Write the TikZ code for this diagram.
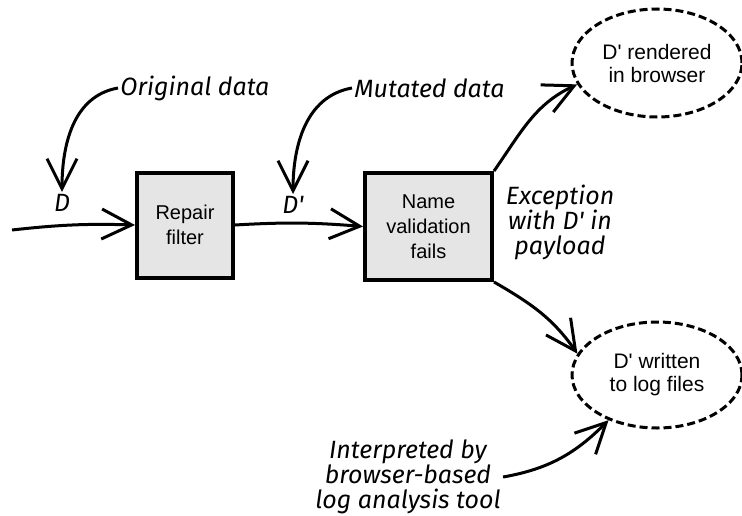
\documentclass[tikz,border=0pt]{standalone}
\usepackage{fontspec}
\setmainfont{Liberation Sans}
\newfontfamily\handfont{Fira Sans}
\usetikzlibrary{arrows.meta,shapes.geometric}

\tikzset{
  procbox/.style={draw, line width=2pt, fill=black!10, align=center,
    font=\fontsize{10}{12.5}\selectfont},
  outcome/.style={draw, ellipse, dashed, dash pattern=on 4pt off 2pt,
    line width=1.5pt, align=center, inner sep=0pt,
    font=\fontsize{10.5}{11.5}\selectfont},
  note/.style={align=center, inner sep=1pt,
    font=\handfont\itshape\fontsize{12.5}{12.5}\selectfont},
  flow/.style={line width=1.5pt, -{Straight Barb[length=15pt,width=15pt,line width=1.5pt]}}
}

\begin{document}
\begin{tikzpicture}[x=0.5pt,y=0.5pt]
\useasboundingbox (0,0) rectangle (742,515);
% processing steps
\node[procbox, minimum width=48pt, minimum height=52.5pt] (filt) at (185,290) {Repair\\filter};
\node[procbox, minimum width=63.5pt, minimum height=53.5pt] (valid) at (428.5,288.5) {Name\\validation\\fails};
% outcomes
\node[outcome, minimum width=85pt, minimum height=54pt] (rend) at (657,452) {D\textquotesingle{} rendered\\in browser};
\node[outcome, minimum width=85pt, minimum height=53pt] (logf) at (657,140) {D\textquotesingle{} written\\to log files};
% labels
\node[note] (din) at (62,312) {D};
\node[note] (dmut) at (293,310) {D\textquotesingle};
\node[note, anchor=west] (orig) at (118,427) {Original data};
\node[note, anchor=west] (mut) at (352,427) {Mutated data};
\node[note] (exc) at (560,293) {Exception\\with D\textquotesingle{} in\\payload};
\node[note] (interp) at (408,38) {Interpreted by\\browser-based\\log analysis tool};
\coordinate (src) at (12,285);
% flows
\draw[flow] (src) to[bend left=4] (filt.west);
\draw[flow] (filt.east) to[bend left=4] (valid.west);
\draw[flow] (valid.north east) to[out=55, in=205] (rend.195);
\draw[flow] (valid.south east) to[out=-30, in=125] (logf.165);
\draw[flow] (interp.east) to[out=10, in=225] (logf.223);
\draw[flow] (orig.west) to[out=190, in=90] (din.north);
\draw[flow] (mut.west) to[out=190, in=90] (dmut.north);
\end{tikzpicture}
\end{document}
